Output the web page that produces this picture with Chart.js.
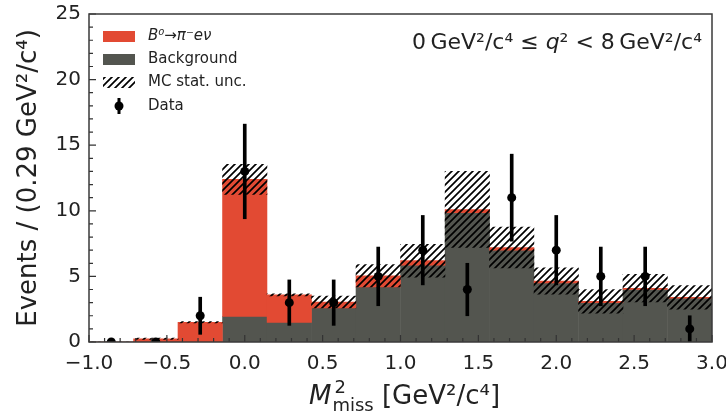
<!DOCTYPE html>
<html>
<head>
<meta charset="utf-8">
<script src="https://cdn.jsdelivr.net/npm/chart.js@4.4.1/dist/chart.umd.min.js"></script>
<style>
html, body { margin: 0; padding: 0; background: #fff; }
#wrap { width: 726px; height: 416px; }
</style>
</head>
<body>
<div id="wrap"><canvas id="myChart"></canvas></div>
<script>
// bin centres of M2miss (14 bins from -1 to 3)
var binCenters = [-0.857, -0.571, -0.286, 0.0, 0.286, 0.571, 0.857, 1.143, 1.429, 1.714, 2.0, 2.286, 2.571, 2.857];
var background = [0, 0, 0, 1.95, 1.5, 2.6, 4.2, 5.85, 9.85, 7.0, 4.5, 3.0, 4.0, 3.35];
var signal = [0, 0.25, 1.5, 10.45, 2.1, 0.45, 0.85, 0.35, 0.25, 0.2, 0.15, 0.1, 0.1, 0.05];
var mcUnc = [0, 0.05, 0.05, 1.15, 0.08, 0.45, 0.85, 1.25, 2.9, 1.55, 1.0, 0.9, 1.05, 0.9];
var dataCounts = [0, 0, 2, 13, 3, 3, 5, 7, 4, 11, 7, 5, 5, 1];
var xTicks = [-1.0, -0.5, 0.0, 0.5, 1.0, 1.5, 2.0, 2.5, 3.0];
var yTicks = [0, 5, 10, 15, 20, 25];

var red = '#E24A33';
var grey = '#53554F';
var fontName = '"DejaVu Sans", sans-serif';

// hatch pattern "////"
function makeHatch() {
    var s = 7;
    var c = document.createElement('canvas');
    c.width = s; c.height = s;
    var g = c.getContext('2d');
    g.strokeStyle = '#000';
    g.lineWidth = 1.7;
    g.beginPath();
    g.moveTo(-1, s + 1); g.lineTo(s + 1, -1);
    g.moveTo(-3, 3); g.lineTo(3, -3);
    g.moveTo(s - 3, s + 3); g.lineTo(s + 3, s - 3);
    g.stroke();
    return document.getElementById('myChart').getContext('2d').createPattern(c, 'repeat');
}
var hatch = makeHatch();

var bgData = binCenters.map(function (c, i) { return { x: c, y: [0, background[i]] }; });
var sigData = binCenters.map(function (c, i) { return { x: c, y: [background[i], background[i] + signal[i]] }; });
var uncData = binCenters.map(function (c, i) {
    var t = background[i] + signal[i];
    return { x: c, y: [t - mcUnc[i], t + mcUnc[i]] };
});
var errData = binCenters.map(function (c, i) {
    var e = Math.sqrt(dataCounts[i]);
    return { x: c, y: [dataCounts[i] - e, dataCounts[i] + e] };
});
var pointData = binCenters.map(function (c, i) { return { x: c, y: dataCounts[i] }; });

var barCommon = { categoryPercentage: 1.0, barPercentage: 1.0, borderWidth: 0, grouped: false };

var decorations = {
    id: 'decorations',
    afterDraw: function (chart) {
        var ctx = chart.ctx, a = chart.chartArea;
        var xs = chart.scales.x, ys = chart.scales.y;
        ctx.save();
        ctx.strokeStyle = '#333';
        ctx.lineWidth = 1.2;
        ctx.beginPath();
        for (var i = 0; i <= 40; i++) {
            var px = xs.getPixelForValue(-1 + i / 10);
            var len = (i % 5 === 0) ? 7 : 4;
            ctx.moveTo(px, a.bottom); ctx.lineTo(px, a.bottom - len);
        }
        for (var j = 0; j <= 25; j++) {
            var py = ys.getPixelForValue(j);
            var l2 = (j % 5 === 0) ? 7 : 4;
            ctx.moveTo(a.left, py); ctx.lineTo(a.left + l2, py);
        }
        ctx.stroke();
        ctx.lineWidth = 1.5;
        ctx.strokeStyle = '#3a3a3a';
        ctx.strokeRect(a.left, a.top, a.right - a.left, a.bottom - a.top);

        // legend
        ctx.textBaseline = 'middle';
        ctx.textAlign = 'left';
        var lx = 103, tx = 148;
        var rows = [36.5, 59.5, 82.5, 106];
        ctx.fillStyle = red; ctx.fillRect(lx, rows[0] - 5.5, 32, 11);
        ctx.fillStyle = grey; ctx.fillRect(lx, rows[1] - 5.5, 32, 11);
        ctx.fillStyle = hatch; ctx.fillRect(lx, rows[2] - 5.5, 32, 11);
        ctx.fillStyle = '#000';
        ctx.beginPath(); ctx.arc(lx + 16, rows[3], 4.5, 0, Math.PI * 2); ctx.fill();
        ctx.fillRect(lx + 14.5, rows[3] - 8, 3, 16);
        ctx.fillStyle = '#222';
        ctx.font = 'italic 15px ' + fontName;
        ctx.fillText('B\u2070\u2192\u03c0\u207be\u03bd', tx, rows[0]);
        ctx.font = '15px ' + fontName;
        ctx.fillText('Background', tx, rows[1]);
        ctx.fillText('MC stat. unc.', tx, rows[2]);
        ctx.fillText('Data', tx, rows[3]);

        // q2 range annotation
        ctx.textBaseline = 'alphabetic';
        var parts = [
            ['22px ' + fontName, '0\u2009GeV\u00b2/c\u2074 \u2264 '],
            ['italic 22px ' + fontName, 'q'],
            ['22px ' + fontName, '\u00b2 < 8\u2009GeV\u00b2/c\u2074']
        ];
        var w = 0;
        parts.forEach(function (p) { ctx.font = p[0]; w += ctx.measureText(p[1]).width; });
        var x0 = 702 - w;
        parts.forEach(function (p) { ctx.font = p[0]; ctx.fillText(p[1], x0, 49); x0 += ctx.measureText(p[1]).width; });

        // y axis title
        ctx.save();
        ctx.translate(29, (a.top + a.bottom) / 2);
        ctx.rotate(-Math.PI / 2);
        ctx.textAlign = 'center';
        ctx.textBaseline = 'middle';
        ctx.font = '26px ' + fontName;
        ctx.fillText('Events / (0.29 GeV\u00b2/c\u2074)', 0, 0);
        ctx.restore();

        // x axis title: M^2_miss [GeV2/c4]
        ctx.textAlign = 'left';
        ctx.font = 'italic 26px ' + fontName;
        var wM = ctx.measureText('M').width;
        ctx.font = '18px ' + fontName;
        var wS = ctx.measureText('miss').width;
        ctx.font = '26px ' + fontName;
        var rest = ' [GeV\u00b2/c\u2074]';
        var wR = ctx.measureText(rest).width;
        var total = wM + 1 + wS + wR;
        var bx = (a.left + a.right) / 2 - total / 2 + 4, by = 404;
        ctx.font = 'italic 26px ' + fontName;
        ctx.fillText('M', bx, by);
        ctx.font = '18px ' + fontName;
        ctx.fillText('2', bx + wM + 3, by - 11);
        ctx.fillText('miss', bx + wM + 1, by + 7);
        ctx.font = '26px ' + fontName;
        ctx.fillText(rest, bx + wM + 1 + wS, by);
        ctx.restore();
    }
};

var myChart = new Chart(document.getElementById('myChart'), {
    type: 'bar',
    data: {
        datasets: [
            { label: 'Data', type: 'scatter', data: pointData, pointRadius: 4.5, pointHoverRadius: 4.5,
                backgroundColor: '#000', borderWidth: 0, order: 0 },
            { label: 'err', data: errData, backgroundColor: '#000', barThickness: 3, borderWidth: 0, grouped: false, order: 1 },
            Object.assign({ label: 'MC stat. unc.', data: uncData, backgroundColor: hatch, order: 2 }, barCommon),
            Object.assign({ label: 'B0 -> pi e nu', data: sigData, backgroundColor: red, order: 3 }, barCommon),
            Object.assign({ label: 'Background', data: bgData, backgroundColor: grey, order: 4 }, barCommon)
        ]
    },
    options: {
        responsive: true,
        maintainAspectRatio: false,
        animation: false,
        layout: { padding: { top: 14, right: 14, left: 0, bottom: 0 } },
        plugins: { legend: { display: false }, tooltip: { enabled: false } },
        scales: {
            x: {
                type: 'linear', min: -1, max: 3, offset: false,
                grid: { display: false, drawTicks: false, offset: false },
                border: { display: false },
                afterBuildTicks: function (s) { s.ticks = xTicks.map(function (v) { return { value: v }; }); },
                afterFit: function (s) { s.height = 74; s.paddingLeft = 0; s.paddingRight = 0; },
                ticks: {
                    padding: 10, maxRotation: 0, autoSkip: false, color: '#222',
                    font: { family: fontName, size: 20 },
                    callback: function (v) { return (v < 0 ? '\u2212' : '') + Math.abs(v).toFixed(1); }
                }
            },
            y: {
                min: 0, max: 25,
                grid: { display: false, drawTicks: false },
                border: { display: false },
                afterBuildTicks: function (s) { s.ticks = yTicks.map(function (v) { return { value: v }; }); },
                afterFit: function (s) { s.width = 89; s.paddingTop = 0; s.paddingBottom = 0; },
                ticks: {
                    padding: 8, color: '#222',
                    font: { family: fontName, size: 20 },
                    callback: function (v) { return String(v); }
                }
            }
        }
    },
    plugins: [decorations]
});
</script>
</body>
</html>
